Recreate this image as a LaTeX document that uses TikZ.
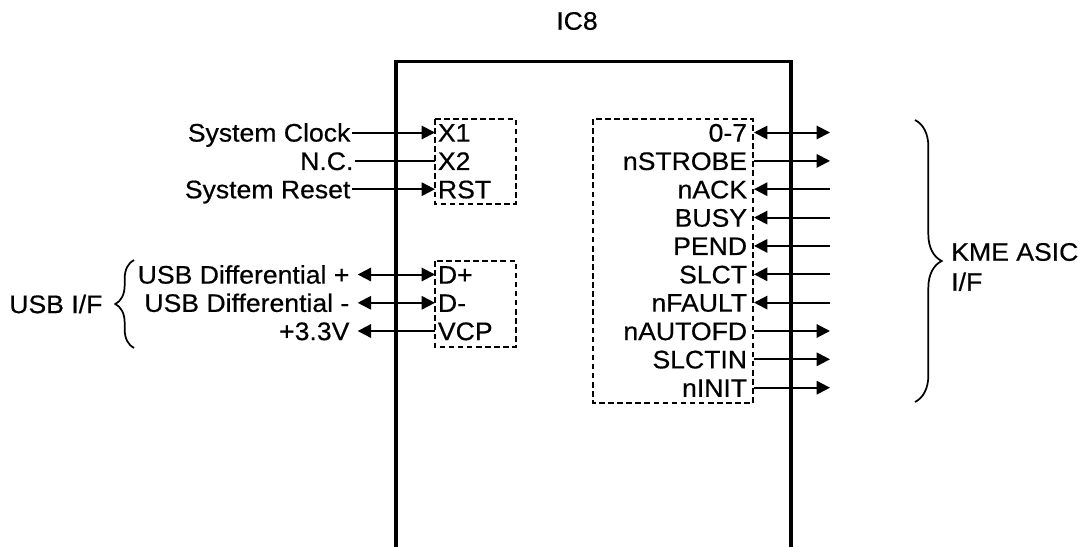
\documentclass[tikz,border=0pt]{standalone}
\usepackage{fontspec}
\setmainfont{Liberation Sans}[FakeStretch=1.05,FakeBold=0.5]
\usepackage{tikz}
\usetikzlibrary{
    arrows.meta,
    positioning,
    decorations.pathreplacing
}
\newcommand{\sigfont}{\fontsize{19pt}{22.5pt}\selectfont}

\begin{document}
\begin{tikzpicture}[
        x=0.75pt,
        y=-0.75pt,
        >={Triangle[length=10pt,width=10pt]},
        every node/.style={
            font=\sigfont,
            inner sep=0pt
        },
        lsig/.style={anchor=east, text height=13.6pt, text depth=0pt, inner xsep=1pt},
        lpin/.style={anchor=west, text height=13.6pt, text depth=0pt, inner xsep=2pt},
        rsig/.style={anchor=east, text height=13.6pt, text depth=0pt, inner xsep=5pt},
        portbox/.style={draw, line width=1.2pt, dash pattern=on 4.2pt off 2.6pt},
        wire/.style={line width=1.5pt},
        icbody/.style={line width=2.7pt, line join=miter},
        bracket/.style={decorate, decoration={brace, amplitude=#1}, line width=1.3pt},
        bracket/.default=14pt
    ]

    \useasboundingbox (0,0) rectangle (1084,546);

    \node (IC) at (577,21) {IC8};
    \draw[icbody] (396,552) |- (791,61.5) -- (791,552);

    \draw[portbox] (435,119) rectangle (516,204);
    \node[lpin] (X1) at (435,132.5) {X1};
    \node[lpin] (X2) at (435,160.9) {X2};
    \node[lpin] (RST) at (435,189.2) {RST};
    \node[lsig] (Clk) at (352,132.5) {System Clock};
    \node[lsig] (NC) at (355,160.9) {N.C.};
    \node[lsig] (Rst) at (352,189.2) {System Reset};
    \draw[wire,->] (Clk) -- (X1);
    \draw[wire] (NC) -- (X2);
    \draw[wire,->] (Rst) -- (RST);

    \draw[portbox] (435,261) rectangle (516,347);
    \node[lpin] (DP) at (435,274.5) {D+};
    \node[lpin] (DM) at (435,302.8) {D-};
    \node[lpin] (VCP) at (435,331) {VCP};
    \node[lsig] (UsbP) at (351,274.5) {USB Differential +};
    \node[lsig] (UsbM) at (351,302.8) {USB Differential -};
    \node[lsig] (Vcc) at (351,331) {+3.3V};
    \draw[wire,<->,shorten <=5pt] (UsbP) -- (DP);
    \draw[wire,<->,shorten <=5pt] (UsbM) -- (DM);
    \draw[wire,<-,shorten <=5pt] (Vcc) -- (VCP);

    \draw[bracket=14pt] (134,348) -- (134,260);
    \node[lsig] (USB) at (104,304) {USB I/F};

    \draw[portbox] (593,119) rectangle (753,403);
    \node[rsig] (D07) at (754,132.5) {0-7};
    \node[rsig] (Strb) at (754,160.9) {nSTROBE};
    \node[rsig] (Ack) at (754,189.2) {nACK};
    \node[rsig] (Busy) at (754,217.6) {BUSY};
    \node[rsig] (Pend) at (754,245.9) {PEND};
    \node[rsig] (Slct) at (754,274.3) {SLCT};
    \node[rsig] (Fault) at (754,302.6) {nFAULT};
    \node[rsig] (Afd) at (754,331.0) {nAUTOFD};
    \node[rsig] (SlIn) at (754,359.3) {SLCTIN};
    \node[rsig] (Init) at (754,387.7) {nINIT};

    \coordinate (e0) at (830,132.5);
    \coordinate (e1) at (830,160.9);
    \coordinate (e2) at (830,189.2);
    \coordinate (e3) at (830,217.6);
    \coordinate (e4) at (830,245.9);
    \coordinate (e5) at (830,274.3);
    \coordinate (e6) at (830,302.6);
    \coordinate (e7) at (830,331.0);
    \coordinate (e8) at (830,359.3);
    \coordinate (e9) at (830,387.7);

    \draw[wire,<->] (D07) -- (e0);
    \draw[wire,->] (Strb) -- (e1);
    \draw[wire,<-] (Ack) -- (e2);
    \draw[wire,<-] (Busy) -- (e3);
    \draw[wire,<-] (Pend) -- (e4);
    \draw[wire,<-] (Slct) -- (e5);
    \draw[wire,<-] (Fault) -- (e6);
    \draw[wire,->] (Afd) -- (e7);
    \draw[wire,->] (SlIn) -- (e8);
    \draw[wire,->] (Init) -- (e9);

    \draw[bracket=20pt] (915,120) -- (915,402);
    \node[anchor=west, align=left] (KME) at (951,267) {KME ASIC\\I/F};

\end{tikzpicture}
\end{document}
